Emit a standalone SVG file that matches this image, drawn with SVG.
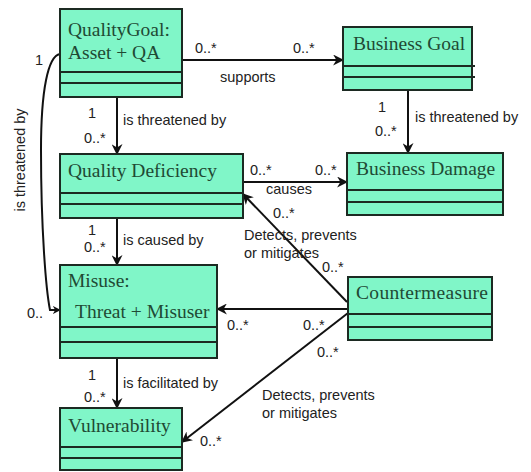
<svg xmlns="http://www.w3.org/2000/svg" width="531" height="472" viewBox="0 0 531 472">
<style>
.box{fill:#80f6c8;stroke:#1c2a22;stroke-width:2}
.sep{stroke:#1c2a22;stroke-width:2}
.cls{font-family:"Liberation Serif","Times New Roman",serif;font-size:19.5px;fill:#1f4a34}
.lbl{font-family:"Liberation Sans",Arial,sans-serif;font-size:14.5px;fill:#222}
.ln{stroke:#111;stroke-width:2;fill:none}
</style>
<defs>
<marker id="arr" viewBox="0 0 10 10" refX="9" refY="5" markerWidth="5.5" markerHeight="5.5" orient="auto" markerUnits="strokeWidth">
<path d="M0,0 L10,5 L0,10 L3,5 z" fill="#111"/>
</marker>
<marker id="arrs" viewBox="0 0 10 10" refX="9" refY="5" markerWidth="4" markerHeight="4" orient="auto" markerUnits="strokeWidth">
<path d="M0,0 L10,5 L0,10 L3,5 z" fill="#111"/>
</marker>
</defs>
<rect width="531" height="472" fill="#fff"/>

<g id="connectors">
<line class="ln" x1="182" y1="60" x2="343" y2="60" marker-end="url(#arr)"/>
<line class="ln" x1="117" y1="97" x2="117" y2="154" marker-end="url(#arr)"/>
<line class="ln" x1="408" y1="90" x2="408" y2="153" marker-end="url(#arr)"/>
<line class="ln" x1="243" y1="182" x2="347" y2="182" marker-end="url(#arr)"/>
<line class="ln" x1="117" y1="218" x2="117" y2="265" marker-end="url(#arr)"/>
<line class="ln" x1="347" y1="302" x2="243" y2="194" marker-end="url(#arr)"/>
<line class="ln" x1="348" y1="309" x2="217" y2="309" marker-end="url(#arr)"/>
<line class="ln" x1="348" y1="313" x2="182" y2="442" marker-end="url(#arr)"/>
<line class="ln" x1="117" y1="358" x2="117" y2="408" marker-end="url(#arr)"/>
<path class="ln" d="M60,54 C48,56 41,90 41,150 C41,230 46,290 50,310 L60,310" marker-end="url(#arrs)"/>

<text class="lbl" x="195" y="53">0..*</text>
<text class="lbl" x="293" y="53">0..*</text>
<text class="lbl" x="220" y="82">supports</text>
<text class="lbl" x="88" y="118">1</text>
<text class="lbl" x="84" y="143">0..*</text>
<text class="lbl" x="123" y="125">is threatened by</text>
<text class="lbl" x="378" y="112">1</text>
<text class="lbl" x="375" y="136">0..*</text>
<text class="lbl" x="415" y="122">is threatened by</text>
<text class="lbl" x="250" y="175">0..*</text>
<text class="lbl" x="315" y="175">0..*</text>
<text class="lbl" x="266" y="194">causes</text>
<text class="lbl" x="273" y="218">0..*</text>
<text class="lbl" x="244" y="240">Detects, prevents</text>
<text class="lbl" x="244" y="258">or mitigates</text>
<text class="lbl" x="322" y="272">0..*</text>
<text class="lbl" x="88" y="235">1</text>
<text class="lbl" x="84" y="252">0..*</text>
<text class="lbl" x="123" y="245">is caused by</text>
<text class="lbl" x="227" y="330">0..*</text>
<text class="lbl" x="303" y="330">0..*</text>
<text class="lbl" x="317" y="357">0..*</text>
<text class="lbl" x="262" y="400">Detects, prevents</text>
<text class="lbl" x="262" y="418">or mitigates</text>
<text class="lbl" x="200" y="446">0..*</text>
<text class="lbl" x="88" y="380">1</text>
<text class="lbl" x="84" y="402">0..*</text>
<text class="lbl" x="123" y="388">is facilitated by</text>
<text class="lbl" x="35" y="65">1</text>
<text class="lbl" x="27" y="318">0..</text>
<text class="lbl" transform="translate(25,160) rotate(-90)" text-anchor="middle">is threatened by</text>
</g>

<g id="qualitygoal">
<rect class="box" x="60" y="9" width="122" height="88"/>
<line class="sep" x1="60" y1="72" x2="182" y2="72"/>
<line class="sep" x1="60" y1="83" x2="182" y2="83"/>
<text class="cls" x="68" y="36">QualityGoal:</text>
<text class="cls" x="68" y="59">Asset + QA</text>
</g>

<g id="businessgoal">
<rect class="box" x="343" y="27" width="129" height="63"/>
<line class="sep" x1="343" y1="66" x2="475" y2="66"/>
<line class="sep" x1="343" y1="77" x2="475" y2="77"/>
<text class="cls" x="353" y="50">Business Goal</text>
</g>

<g id="qualitydeficiency">
<rect class="box" x="60" y="154" width="183" height="64"/>
<line class="sep" x1="60" y1="193" x2="243" y2="193"/>
<line class="sep" x1="60" y1="204" x2="243" y2="204"/>
<text class="cls" x="68" y="177">Quality Deficiency</text>
</g>

<g id="businessdamage">
<rect class="box" x="347" y="153" width="156" height="62"/>
<line class="sep" x1="347" y1="190" x2="503" y2="190"/>
<line class="sep" x1="347" y1="202" x2="503" y2="202"/>
<text class="cls" x="356" y="175">Business Damage</text>
</g>

<g id="misuse">
<rect class="box" x="60" y="265" width="157" height="93"/>
<line class="sep" x1="60" y1="327" x2="217" y2="327"/>
<line class="sep" x1="60" y1="342" x2="217" y2="342"/>
<text class="cls" x="68" y="287">Misuse:</text>
<text class="cls" x="75" y="318">Threat + Misuser</text>
</g>

<g id="countermeasure">
<rect class="box" x="348" y="277" width="144" height="63"/>
<line class="sep" x1="348" y1="314" x2="492" y2="314"/>
<line class="sep" x1="348" y1="327" x2="492" y2="327"/>
<text class="cls" x="356" y="299" textLength="132">Countermeasure</text>
</g>

<g id="vulnerability">
<rect class="box" x="60" y="408" width="122" height="62"/>
<line class="sep" x1="60" y1="447" x2="182" y2="447"/>
<line class="sep" x1="60" y1="458" x2="182" y2="458"/>
<text class="cls" x="68" y="432">Vulnerability</text>
</g>
</svg>
